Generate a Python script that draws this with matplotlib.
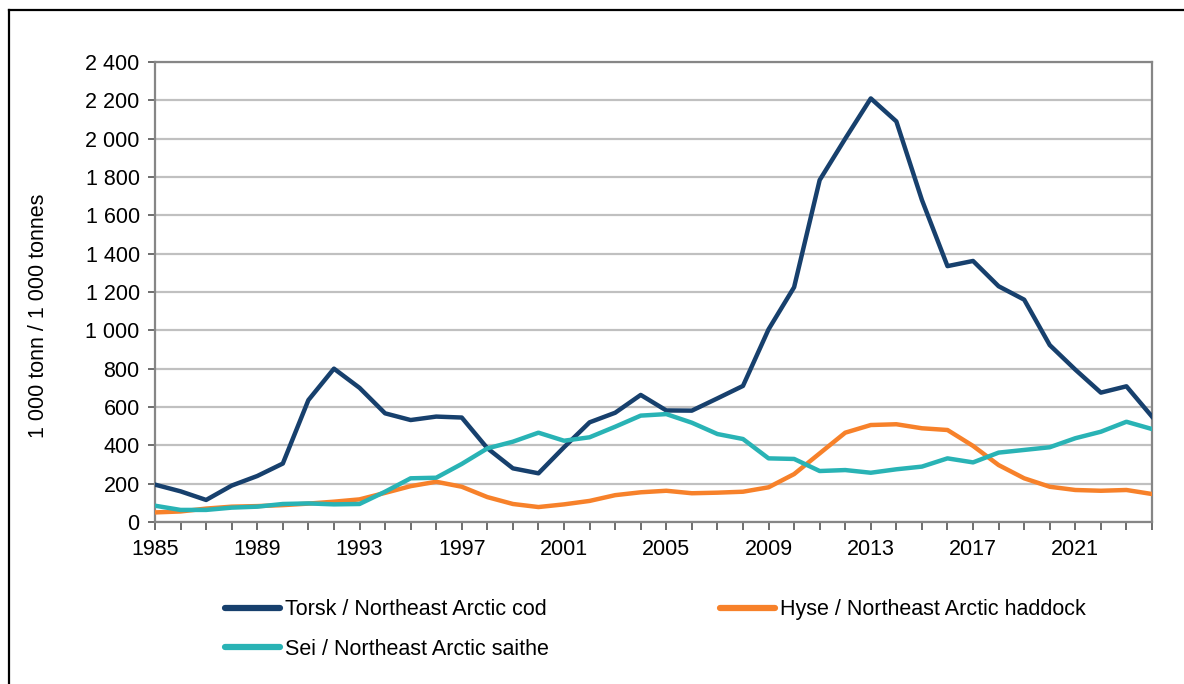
import numpy as np
import matplotlib.pyplot as plt
from matplotlib.lines import Line2D
from matplotlib.ticker import FuncFormatter, MultipleLocator

plt.rcParams['font.family'] = ['Liberation Sans', 'DejaVu Sans']

# Spawning stock, 1 000 tonnes
years = np.arange(1985, 2025)

cod = [195, 160, 115, 190, 240, 305, 636, 800, 700, 567,
       532, 550, 545, 385, 280, 254, 390, 520, 570, 663,
       582, 581, 645, 710, 1005, 1225, 1784, 2000, 2210, 2090,
       1680, 1335, 1362, 1230, 1160, 923, 795, 675, 708, 550]

haddock = [50, 55, 70, 80, 83, 88, 96, 106, 118, 152,
           187, 210, 184, 130, 94, 78, 92, 110, 140, 155,
           163, 150, 153, 158, 181, 250, 358, 466, 506, 510,
           489, 480, 397, 297, 228, 184, 167, 163, 167, 146]

saithe = [85, 63, 63, 75, 80, 94, 97, 92, 94, 158,
          228, 231, 303, 384, 419, 466, 424, 442, 497, 555,
          563, 518, 459, 433, 332, 329, 266, 271, 257, 275,
          289, 332, 311, 362, 376, 390, 437, 471, 523, 485]

labels = ['Torsk / Northeast Arctic cod',
          'Hyse / Northeast Arctic haddock',
          'Sei / Northeast Arctic saithe']
colors = ['#17406d', '#f7812a', '#29b3b5']

fs = 15.5

fig = plt.figure(figsize=(11.84, 6.84), dpi=100)
ax = fig.add_axes([155 / 1184, 1 - 522 / 684, 997 / 1184, 460 / 684])

l_cod, = ax.plot(years, cod, color=colors[0], lw=3.2, zorder=3)
l_had, = ax.plot(years, haddock, color=colors[1], lw=3.2, zorder=3)
l_sei, = ax.plot(years, saithe, color=colors[2], lw=3.2, zorder=3)

ax.set_xlim(1985, 2024)
ax.set_ylim(0, 2400)
ax.yaxis.set_major_locator(MultipleLocator(200))
ax.yaxis.set_major_formatter(FuncFormatter(lambda v, p: f'{v:,.0f}'.replace(',', ' ')))
ax.set_xticks(years, minor=True)
ax.set_xticks(years[::4])
ax.grid(axis='y', color='#c0c0c0', lw=1.6, zorder=1)

for s in ax.spines.values():
    s.set_color('#868686')
    s.set_linewidth(1.6)

ax.tick_params(axis='both', which='both', labelsize=fs, color='#555555', width=1.2)
ax.tick_params(axis='y', length=5, pad=6)
ax.tick_params(axis='x', which='both', length=6, pad=6)

fig.text(39 / 1184, 1 - 316 / 684, '1 000 tonn / 1 000 tonnes', rotation=90,
         ha='center', va='center', fontsize=fs)

leg = fig.legend([l_cod, l_sei, l_had], [labels[0], labels[2], labels[1]],
                 ncol=2, loc='upper left', bbox_to_anchor=(206 / 1184, 1 - 580 / 684),
                 frameon=False, fontsize=fs, handlelength=2.55, handletextpad=0.23,
                 columnspacing=7.95, labelspacing=0.86)
for h in leg.legend_handles:
    h.set_linewidth(4.5)
    h.set_solid_capstyle('round')

# outer frame (cropped at right and bottom)
fig.add_artist(Line2D([8.5 / 1184, 8.5 / 1184], [0, 1 - 10 / 684], color='black', lw=1.6))
fig.add_artist(Line2D([8.5 / 1184, 1], [1 - 10 / 684, 1 - 10 / 684], color='black', lw=1.6))

fig.savefig('out.png', dpi=100)
